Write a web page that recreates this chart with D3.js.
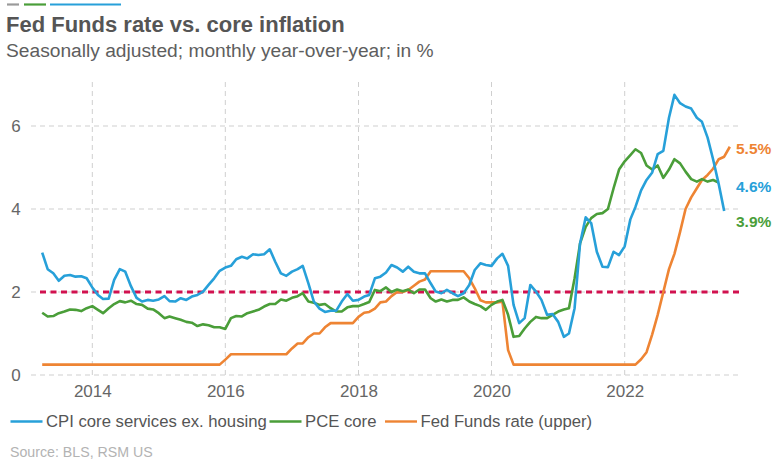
<!DOCTYPE html>
<head>
    <meta charset="utf-8">
    <title>Fed Funds rate vs. core inflation</title>
    <style>
        body { margin: 0; background: #fff; }
        svg text { font-family: "Liberation Sans", Arial, sans-serif; }
    </style>
</head>

<body>

    <script src="https://d3js.org/d3.v7.min.js"></script>

    <script>

        // monthly values, first point = March 2013
        var cpiServices = [
            2.95, 2.55, 2.45, 2.27, 2.39, 2.41, 2.37, 2.38, 2.33, 2.11,
            1.93, 1.83, 1.84, 2.29, 2.55, 2.49, 2.14, 1.86, 1.77, 1.81, 1.79, 1.82,
            1.90, 1.78, 1.77, 1.85, 1.81, 1.89, 1.93, 2.01, 2.17, 2.33, 2.51, 2.59,
            2.63, 2.79, 2.85, 2.81, 2.91, 2.89, 2.91, 3.03, 2.73, 2.45, 2.39, 2.49,
            2.55, 2.63, 2.21, 1.77, 1.60, 1.52, 1.55, 1.55, 1.77, 1.95, 1.79, 1.81,
            1.89, 1.93, 2.33, 2.37, 2.47, 2.65, 2.59, 2.49, 2.61, 2.49, 2.45, 2.45,
            2.21, 2.01, 1.97, 2.05, 1.97, 1.90, 1.97, 2.17, 2.53, 2.69, 2.65, 2.63,
            2.81, 2.92, 2.63, 1.69, 1.25, 1.37, 2.17, 2.01, 1.81, 1.45, 1.47, 1.28,
            0.92, 1.00, 1.61, 3.17, 3.80, 3.66, 2.97, 2.61, 2.60, 2.97, 2.89, 3.10,
            3.75, 4.05, 4.45, 4.70, 4.88, 5.32, 5.40, 6.20, 6.75, 6.55, 6.47, 6.42,
            6.20, 6.10, 5.72, 5.20, 4.60, 3.95
        ];

        var pceCore = [
            1.50, 1.41, 1.42, 1.49, 1.53, 1.58, 1.57, 1.54, 1.61, 1.66,
            1.57, 1.49, 1.61, 1.71, 1.78, 1.75, 1.79, 1.71, 1.69, 1.60, 1.58, 1.49,
            1.37, 1.41, 1.37, 1.33, 1.28, 1.26, 1.18, 1.22, 1.20, 1.15, 1.15, 1.11,
            1.37, 1.42, 1.41, 1.49, 1.53, 1.57, 1.65, 1.71, 1.71, 1.82, 1.79, 1.86,
            1.90, 1.97, 1.77, 1.74, 1.69, 1.71, 1.61, 1.53, 1.53, 1.63, 1.66, 1.66,
            1.71, 1.76, 2.05, 2.02, 2.11, 2.00, 2.06, 2.02, 2.06, 1.97, 2.06, 2.06,
            1.85, 1.77, 1.82, 1.77, 1.81, 1.81, 1.87, 1.77, 1.71, 1.66, 1.57, 1.69,
            1.77, 1.81, 1.45, 0.92, 0.94, 1.12, 1.28, 1.40, 1.37, 1.37, 1.45, 1.53,
            1.58, 1.61, 2.33, 3.17, 3.57, 3.78, 3.88, 3.90, 4.00, 4.50, 4.95, 5.15,
            5.30, 5.44, 5.35, 5.05, 4.95, 5.05, 4.75, 4.95, 5.20, 5.10, 4.90, 4.72,
            4.66, 4.72, 4.66, 4.70, 4.64
        ];

        var fedFunds = [
            0.25, 0.25, 0.25, 0.25, 0.25, 0.25, 0.25, 0.25, 0.25, 0.25,
            0.25, 0.25, 0.25, 0.25, 0.25, 0.25, 0.25, 0.25, 0.25, 0.25, 0.25, 0.25,
            0.25, 0.25, 0.25, 0.25, 0.25, 0.25, 0.25, 0.25, 0.25, 0.25, 0.25, 0.37,
            0.50, 0.50, 0.50, 0.50, 0.50, 0.50, 0.50, 0.50, 0.50, 0.50, 0.50, 0.64,
            0.76, 0.76, 0.91, 1.00, 1.00, 1.15, 1.25, 1.25, 1.25, 1.25, 1.25, 1.40,
            1.50, 1.52, 1.60, 1.75, 1.77, 1.90, 2.00, 2.00, 2.05, 2.15, 2.25, 2.30,
            2.50, 2.50, 2.50, 2.50, 2.50, 2.50, 2.50, 2.33, 2.09, 1.80, 1.75, 1.75,
            1.75, 1.77, 0.60, 0.25, 0.25, 0.25, 0.25, 0.25, 0.25, 0.25, 0.25, 0.25,
            0.25, 0.25, 0.25, 0.25, 0.25, 0.25, 0.25, 0.25, 0.25, 0.25, 0.25, 0.25,
            0.25, 0.25, 0.38, 0.55, 0.98, 1.45, 2.00, 2.55, 2.92, 3.45, 4.00, 4.28,
            4.50, 4.70, 4.82, 4.97, 5.20, 5.26, 5.50
        ];

        var seriesNames = ['CPI core services ex. housing', 'PCE core', 'Fed Funds rate (upper)'];
        var seriesColors = ['#27a0d9', '#4a9e39', '#ee8433'];
        var yearTicks = [2014, 2016, 2018, 2020, 2022];
        var valueTicks = [0, 2, 4, 6];
        var targetRate = 2;
        var endLabels = ['5.5%', '4.6%', '3.9%'];
        var endLabelValues = [5.5, 4.6, 3.9];
        var endLabelColors = ['#ee8433', '#27a0d9', '#4a9e39'];

        var startMonth = new Date(Date.UTC(2013, 2, 1));

        var width = 772, height = 461;

        var svg = d3.select('body').append('svg')
            .attr('width', width)
            .attr('height', height);

        // each monthly value sits at the end of its month
        function toPoints(values) {
            return values.map(function (v, i) {
                return { date: d3.utcMonth.offset(startMonth, i + 1), value: v };
            });
        }

        var series = [cpiServices, pceCore, fedFunds].map(function (vals, i) {
            return { name: seriesNames[i], color: seriesColors[i], points: toPoints(vals) };
        });

        var x = d3.scaleUtc()
            .domain([new Date(Date.UTC(2014, 0, 1)), new Date(Date.UTC(2022, 0, 1))])
            .range([92.3, 624.7]);

        var y = d3.scaleLinear()
            .domain([0, 6])
            .range([375, 126]);

        // header decoration
        var deco = [[7, 19, '#9a9a9a'], [24, 46, '#4a9e39'], [50, 121, '#27a0d9']];
        svg.selectAll('.deco')
            .data(deco)
            .enter().append('line')
            .attr('x1', function (d) { return d[0]; })
            .attr('x2', function (d) { return d[1]; })
            .attr('y1', 4.5).attr('y2', 4.5)
            .attr('stroke', function (d) { return d[2]; })
            .attr('stroke-width', 2.2);

        svg.append('text')
            .attr('x', 6)
            .attr('y', 31.5)
            .style('font-size', '22px')
            .style('font-weight', 'bold')
            .attr('fill', '#555')
            .text('Fed Funds rate vs. core inflation');

        svg.append('text')
            .attr('x', 6)
            .attr('y', 56.5)
            .style('font-size', '19.2px')
            .attr('fill', '#5e5e5e')
            .text('Seasonally adjusted; monthly year-over-year; in %');

        // grid
        svg.selectAll('.hgrid')
            .data(valueTicks)
            .enter().append('line')
            .attr('x1', 31).attr('x2', 740)
            .attr('y1', function (d) { return y(d); })
            .attr('y2', function (d) { return y(d); })
            .attr('stroke', '#cfcfcf')
            .attr('stroke-dasharray', '5,4');

        var yearDates = yearTicks.map(function (yr) { return new Date(Date.UTC(yr, 0, 1)); });

        svg.selectAll('.vgrid')
            .data(yearDates)
            .enter().append('line')
            .attr('x1', function (d) { return x(d); })
            .attr('x2', function (d) { return x(d); })
            .attr('y1', 82).attr('y2', 378)
            .attr('stroke', '#cfcfcf')
            .attr('stroke-dasharray', '5,4');

        // axes (labels only)
        var yAxis = d3.axisLeft(y).tickValues(valueTicks).tickFormat(d3.format('d'))
            .tickSize(0).tickPadding(0);
        var yg = svg.append('g')
            .attr('transform', 'translate(16,0)')
            .call(yAxis);
        yg.select('.domain').remove();
        yg.selectAll('text')
            .attr('text-anchor', 'middle')
            .style('font-family', '"Liberation Sans", Arial, sans-serif')
            .style('font-size', '17px')
            .attr('fill', '#666');

        var xAxis = d3.axisBottom(x).tickValues(yearDates).tickFormat(d3.utcFormat('%Y'))
            .tickSize(0).tickPadding(10);
        var xg = svg.append('g')
            .attr('transform', 'translate(0,375)')
            .call(xAxis);
        xg.select('.domain').remove();
        xg.selectAll('text')
            .style('font-family', '"Liberation Sans", Arial, sans-serif')
            .style('font-size', '17px')
            .attr('fill', '#666');

        // 2% target
        svg.append('line')
            .attr('x1', 40).attr('x2', 740)
            .attr('y1', y(targetRate)).attr('y2', y(targetRate))
            .attr('stroke', '#d1114f')
            .attr('stroke-width', 3)
            .attr('stroke-dasharray', '6,4.5');

        var line = d3.line()
            .x(function (d) { return x(d.date); })
            .y(function (d) { return y(d.value); });

        // draw orange first so inflation lines sit above it
        svg.selectAll('.series')
            .data([series[2], series[1], series[0]])
            .enter().append('path')
            .attr('class', 'series')
            .attr('d', function (d) { return line(d.points); })
            .attr('fill', 'none')
            .attr('stroke', function (d) { return d.color; })
            .attr('stroke-width', 2.6)
            .attr('stroke-linejoin', 'round');

        // end labels
        var labelNudge = [1.5, 2.5, 8.5];
        svg.selectAll('.endlabel')
            .data(endLabels)
            .enter().append('text')
            .attr('x', 736)
            .attr('y', function (d, i) { return y(endLabelValues[i]) + labelNudge[i]; })
            .attr('dy', '0.35em')
            .style('font-size', '15.5px')
            .style('font-weight', 'bold')
            .attr('fill', function (d, i) { return endLabelColors[i]; })
            .text(function (d) { return d; });

        // legend
        var legendX = [10.5, 269.5, 385];
        var legend = svg.selectAll('.legend')
            .data(series)
            .enter().append('g')
            .attr('transform', function (d, i) { return 'translate(' + legendX[i] + ',421.5)'; });

        legend.append('line')
            .attr('x1', 0).attr('x2', 32)
            .attr('stroke', function (d) { return d.color; })
            .attr('stroke-width', 2.4);

        legend.append('text')
            .attr('x', 35.5)
            .attr('dy', '0.35em')
            .style('font-size', '16.7px')
            .attr('fill', '#555')
            .text(function (d) { return d.name; });

        svg.append('text')
            .attr('x', 10)
            .attr('y', 451.7)
            .attr('dy', '0.35em')
            .style('font-size', '14.2px')
            .attr('fill', '#b3b3b3')
            .text('Source: BLS, RSM US');

    </script>

</body>
